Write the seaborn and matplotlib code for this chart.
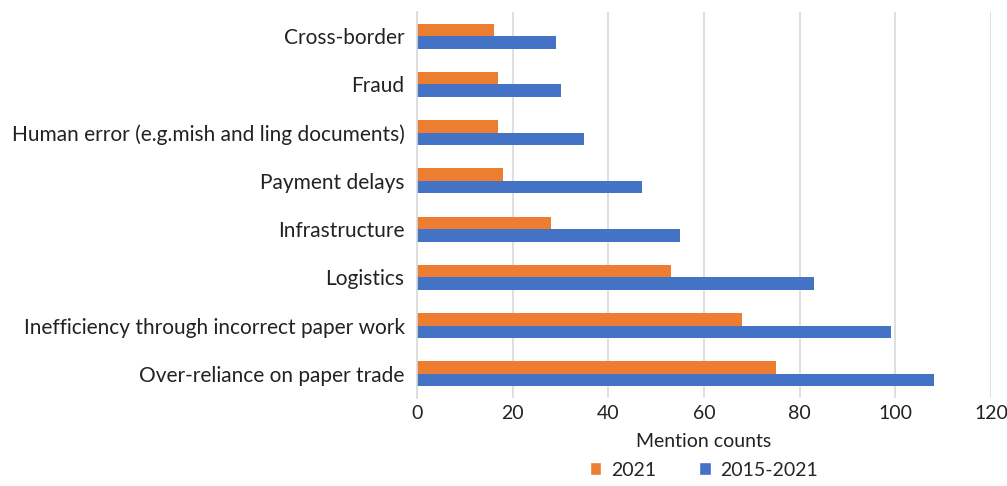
import matplotlib
matplotlib.use("Agg")
import matplotlib.pyplot as plt
import seaborn as sns
import pandas as pd
from matplotlib.patches import Patch

categories = [
    "Cross-border",
    "Fraud",
    "Human error (e.g.mish and ling documents)",
    "Payment delays",
    "Infrastructure",
    "Logistics",
    "Inefficiency through incorrect paper work",
    "Over-reliance on paper trade",
]
values_2021 = [16, 17, 17, 18, 28, 53, 68, 75]
values_2015_2021 = [29, 30, 35, 47, 55, 83, 99, 108]
series = ["2021", "2015-2021"]
colors = ["#ED7D31", "#4472C4"]
xticks = [0, 20, 40, 60, 80, 100, 120]

df = pd.DataFrame({
    "category": categories * 2,
    "value": values_2021 + values_2015_2021,
    "series": [series[0]] * len(categories) + [series[1]] * len(categories),
})

sns.set_theme(style="white")
plt.rcParams["font.family"] = ["Lato", "DejaVu Sans"]
FS = 15
FS_TICK = 14

fig = plt.figure(figsize=(10.07, 4.86), dpi=100)
ax = fig.add_axes([417 / 1007, 88 / 486, 574 / 1007, 386 / 486])

sns.barplot(data=df, y="category", x="value", hue="series", order=categories,
            hue_order=series, palette=colors, orient="h", width=0.52,
            saturation=1, ax=ax, legend=False, linewidth=0)

ax.set_xlim(0, 120)
ax.set_xticks(xticks)
ax.set_xticklabels([str(t) for t in xticks], fontsize=FS_TICK, color="#222222")
ax.tick_params(axis="y", labelsize=FS, labelcolor="#222222", length=0, pad=9)
ax.tick_params(axis="x", length=0, pad=5)
ax.set_ylabel("")
ax.set_xlabel("Mention counts", fontsize=FS_TICK, color="#222222", labelpad=8)
ax.grid(axis="x", color="#D9D9D9", linewidth=1.2)
ax.set_axisbelow(True)
for s in ["top", "right", "bottom"]:
    ax.spines[s].set_visible(False)
ax.spines["left"].set_color("#D9D9D9")
ax.spines["left"].set_linewidth(1.2)

handles = [Patch(facecolor=c, label=s) for c, s in zip(colors, series)]
fig.legend(handles=handles, loc="center", bbox_to_anchor=(704 / 1007, 16 / 486),
           ncol=2, frameon=False, fontsize=FS_TICK, handlelength=0.6, handleheight=0.6,
           columnspacing=2.2, handletextpad=0.5)

fig.savefig("out.png", dpi=100)
